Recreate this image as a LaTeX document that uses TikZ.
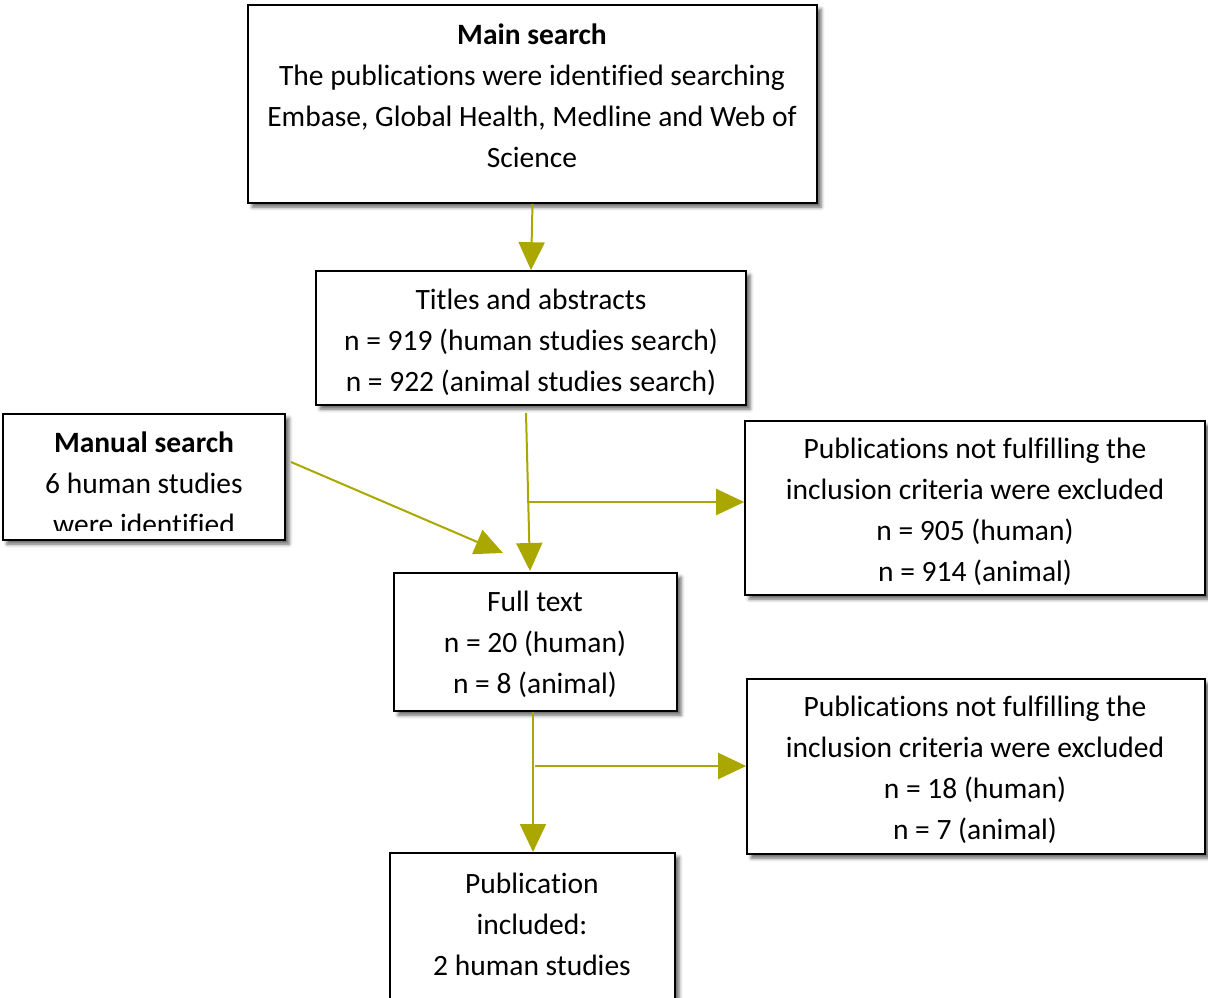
\documentclass[tikz,border=0pt]{standalone}
\usepackage{fontspec}
\setmainfont{Carlito}[Ligatures={NoCommon}]
\usetikzlibrary{arrows.meta,shadows.blur,calc}
\definecolor{arrowolive}{RGB}{170,168,0}
\tikzset{
  box/.style={draw=black, line width=1.6pt, fill=white, inner sep=0pt,
    blur shadow={shadow xshift=4pt, shadow yshift=-4pt, shadow blur radius=3.5pt, shadow opacity=60}},
  txt/.style={align=center, font=\fontsize{29.5}{41}\selectfont, inner sep=0pt},
  flow/.style={draw=arrowolive, line width=2pt, -{Triangle[width=26pt,length=28pt]}},
}
\begin{document}
\begin{tikzpicture}[x=1pt,y=-1pt]
\useasboundingbox (0,0) rectangle (1208,997);
\clip (0,0) rectangle (1208,997);
% boxes
\node[box, minimum width=569pt, minimum height=198pt] (main) at (532.5,104) {};
\node[box, minimum width=430pt, minimum height=134pt] (titles) at (531,338) {};
\node[box, minimum width=282pt, minimum height=126pt] (manual) at (144,477) {};
\node[box, minimum width=460pt, minimum height=174pt] (excl1) at (975,508) {};
\node[box, minimum width=283pt, minimum height=138pt] (full) at (535.5,642) {};
\node[box, minimum width=458pt, minimum height=175pt] (excl2) at (976,766.5) {};
\node[box, minimum width=285pt, minimum height=157pt] (pub) at (532.5,931.5) {};
% texts
\node[txt] (maintext) at (532,96) {\textbf{Main search}\\The publications were identified searching\\Embase, Global Health, Medline and Web of\\Science};
\node[txt] (titlestext) at (531,342) {Titles and abstracts\\n = 919 (human studies search)\\n = 922 (animal studies search)};
\begin{scope}
  \clip (5,416) rectangle (283,530);
  \node[txt] (manualtext) at (144,483) {\textbf{Manual search}\\6 human studies\\were identified};
\end{scope}
\node[txt] (excl1text) at (975,512) {Publications not fulfilling the\\inclusion criteria were excluded\\n = 905 (human)\\n = 914 (animal)};
\node[txt] (fulltext) at (535,644) {Full text\\n = 20 (human)\\n = 8 (animal)};
\node[txt] (excl2text) at (975,770) {Publications not fulfilling the\\inclusion criteria were excluded\\n = 18 (human)\\n = 7 (animal)};
\node[txt] (pubtext) at (532,924) {Publication\\included:\\2 human studies};
% connectors
\coordinate (c1s) at (526,413);
\coordinate (c1e) at (530,571);
\coordinate (c1b) at (527,502);
\coordinate (ms) at (291,462);
\coordinate (me) at (503,553);
\coordinate (c2s) at (533,712);
\coordinate (c2e) at (533,852);
\coordinate (c2b) at (535,766);
\draw[flow] (main.south) -- (titles.north);
\draw[flow] (c1s) -- (c1e);
\draw[flow] (c1b) -- (c1b -| excl1.west);
\draw[flow] (ms) -- (me);
\draw[flow] (c2s) -- (c2e);
\draw[flow] (c2b) -- (c2b -| excl2.west);
\end{tikzpicture}
\end{document}
